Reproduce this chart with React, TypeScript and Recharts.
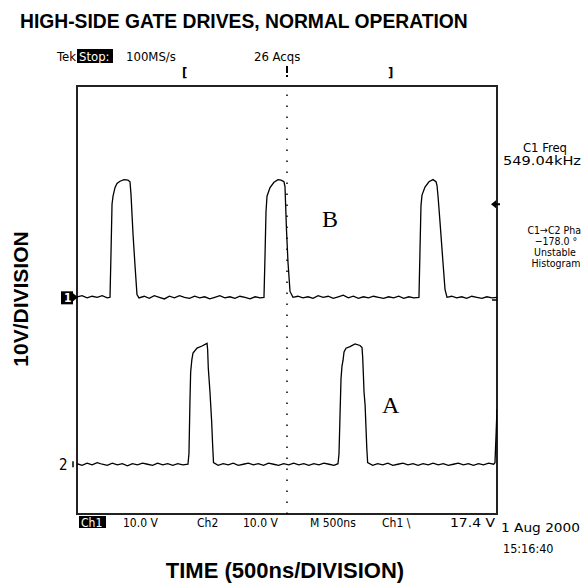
import React from "react";
import { LineChart, Line, XAxis, YAxis, ReferenceLine, ReferenceArea } from "recharts";

// ---- scope settings ----
const VOLTS_PER_DIV = 10;
const CH1_POS_DIV = 0.05;
const CH2_POS_DIV = -3.07;
const TIME_SPAN_NS = 5000;

// ---- Channel 1 (B) ----
const CH1_TIME_NS = [
  0, 60, 120, 180, 240, 300, 360, 393, 405, 417, 429, 452, 476, 512, 560, 607, 631, 643, 667, 690, 714, 738,
  800, 860, 920, 980, 1040, 1100, 1160, 1220, 1280, 1340, 1400, 1460, 1520, 1580, 1640, 1700, 1760, 1820,
  1880, 1940, 2000, 2060, 2120, 2180, 2226, 2238, 2250, 2262, 2298, 2345, 2393, 2429, 2464, 2476, 2494,
  2512, 2536, 2571, 2630, 2690, 2750, 2810, 2870, 2930, 2990, 3050, 3110, 3170, 3230, 3290, 3350, 3410,
  3470, 3530, 3590, 3650, 3710, 3770, 3830, 3890, 3950, 4010, 4071, 4083, 4095, 4107, 4143, 4190, 4238,
  4274, 4286, 4298, 4321, 4357, 4381, 4405, 4460, 4520, 4580, 4640, 4700, 4760, 4820, 4880, 4940, 5000,
];
const CH1_VOLTS = [
  0.1, 0.3, -0.1, 0.2, 0.0, 0.3, -0.1, 0.0, 8.4, 17.4, 18.9, 20.5, 21.3, 21.7, 22.0, 21.9, 21.6, 19.2, 11.8, 6.1, 0.5, -0.1,
  0.2, -0.2, 0.3, 0.0, -0.3, 0.2, -0.1, 0.3, 0.0, -0.2, 0.2, -0.1, 0.1, -0.3, 0.0, 0.3, -0.1, 0.1,
  -0.2, 0.2, 0.0, -0.3, 0.1, -0.1, 0.0, 7.6, 16.0, 18.9, 20.5, 21.5, 22.0, 21.9, 21.6, 20.7, 12.6,
  6.5, 1.1, 0.0, 0.2, -0.1, 0.1, -0.2, 0.3, 0.0, 0.2, -0.2, 0.1, 0.4, -0.1, 0.2, -0.2, 0.1,
  -0.1, 0.2, 0.0, -0.2, 0.1, -0.1, 0.2, -0.2, 0.1, -0.1, 0.0, 8.6, 17.1, 19.1, 20.6, 21.6, 22.0,
  21.6, 20.9, 18.9, 14.2, 6.5, 1.5, 0.0, 0.2, -0.1, 0.1, -0.2, 0.2, 0.0, -0.2, 0.1, -0.1, 0.0,
];

// ---- Channel 2 (A) ----
const CH2_TIME_NS = [
  0, 60, 120, 180, 240, 300, 360, 420, 480, 540, 600, 660, 720, 780, 840, 900, 960, 1020, 1080, 1140, 1200,
  1260, 1321, 1333, 1345, 1353, 1367, 1381, 1429, 1488, 1548, 1555, 1563, 1583, 1603, 1615, 1625, 1680,
  1740, 1800, 1860, 1920, 1980, 2040, 2100, 2160, 2220, 2280, 2340, 2400, 2460, 2520, 2580, 2640, 2700,
  2760, 2820, 2880, 2940, 3000, 3060, 3107, 3119, 3131, 3143, 3155, 3167, 3179, 3202, 3250, 3310, 3369,
  3393, 3401, 3410, 3417, 3430, 3440, 3450, 3460, 3520, 3580, 3640, 3700, 3760, 3820, 3880, 3940, 4000,
  4060, 4120, 4180, 4240, 4300, 4360, 4420, 4480, 4540, 4600, 4660, 4720, 4780, 4840, 4900, 4960, 4976,
  4990, 5000,
];
const CH2_VOLTS = [
  0.1, -0.2, 0.2, -0.1, 0.3, 0.0, -0.2, 0.2, -0.1, 0.1, -0.3, 0.1, -0.1, 0.2, 0.0, -0.2, 0.2, -0.1, 0.1, -0.2, 0.1,
  -0.1, 0.0, 2.0, 12.0, 17.2, 19.5, 20.8, 21.7, 22.1, 22.6, 21.5, 18.0, 13.5, 8.0, 3.5, 0.3, -0.2,
  0.1, -0.1, 0.2, -0.2, 0.0, 0.2, -0.1, 0.1, -0.2, 0.2, 0.0, -0.2, 0.1, -0.1, 0.2, -0.1, 0.1,
  -0.2, 0.1, -0.1, 0.2, 0.0, -0.2, 0.1, 1.9, 9.0, 16.0, 18.4, 19.4, 21.0, 21.7, 22.0, 22.5, 22.2,
  21.8, 20.0, 16.5, 13.5, 11.0, 7.0, 3.0, 0.3, -0.2, 0.1, -0.1, 0.2, -0.2, 0.0, 0.2, -0.1, 0.1,
  -0.2, 0.1, -0.1, 0.2, -0.1, 0.1, -0.2, 0.0, 0.2, -0.1, 0.1, -0.2, 0.1, -0.1, 0.2, 0.0, 0.3,
  6.0, 10.3,
];

const TRIGGER_LEVEL_V = 17.4;

const ch1Data = CH1_TIME_NS.map((t, i) => ({ t, y: CH1_VOLTS[i] / VOLTS_PER_DIV + CH1_POS_DIV }));
const ch2Data = CH2_TIME_NS.map((t, i) => ({ t, y: CH2_VOLTS[i] / VOLTS_PER_DIV + CH2_POS_DIV }));

const W = 582;
const H = 586;
const PL = 77, PR = 497, PT = 86, PB = 514;
const yPix = (div: number) => PT + ((4 - div) / 8) * (PB - PT);

const scopeFont = "'DejaVu Sans Condensed', 'Liberation Sans Narrow', sans-serif";
const boldFont = "'Liberation Sans', Arial, sans-serif";

export default function App() {
  const trigY = yPix(TRIGGER_LEVEL_V / VOLTS_PER_DIV + CH1_POS_DIV);
  const g1 = yPix(CH1_POS_DIV);
  const g2 = yPix(CH2_POS_DIV);
  return (
    <div style={{ position: "absolute", left: 0, top: 0, width: W, height: H, background: "#fff" }}>
      <LineChart
        width={W}
        height={H}
        margin={{ top: PT, right: W - PR, bottom: H - PB, left: PL }}
      >
        <XAxis type="number" dataKey="t" domain={[0, TIME_SPAN_NS]} hide allowDataOverflow />
        <YAxis type="number" domain={[-4, 4]} hide allowDataOverflow />
        <ReferenceArea x1={0} x2={TIME_SPAN_NS} y1={-4} y2={4} fill="none" stroke="#222" strokeWidth={2} ifOverflow="visible" />
        <ReferenceLine x={TIME_SPAN_NS / 2} stroke="#000" strokeWidth={1.5} strokeDasharray="1.5 9.5" />
        <Line data={ch1Data} dataKey="y" type="linear" stroke="#000" strokeWidth={1.3} dot={false} isAnimationActive={false} />
        <Line data={ch2Data} dataKey="y" type="linear" stroke="#000" strokeWidth={1.3} dot={false} isAnimationActive={false} />
      </LineChart>
      <svg width={W} height={H} style={{ position: "absolute", left: 0, top: 0, pointerEvents: "none" }}>
        <text x={20} y={28} fontFamily={boldFont} fontWeight="bold" fontSize={19.3} fill="#000">
          HIGH-SIDE GATE DRIVES, NORMAL OPERATION
        </text>
        <text x={285} y={578} textAnchor="middle" fontFamily={boldFont} fontWeight="bold" fontSize={22} fill="#000">
          TIME (500ns/DIVISION)
        </text>
        <text x={0} y={0} transform="translate(28,299) rotate(-90)" textAnchor="middle" fontFamily={boldFont} fontWeight="bold" fontSize={21} fill="#000">
          10V/DIVISION
        </text>

        {/* top status line */}
        <text x={57} y={61} fontFamily={scopeFont} fontSize={13} fill="#000">Tek</text>
        <rect x={77} y={49} width={36} height={14} fill="#000" />
        <text x={79} y={61} fontFamily={scopeFont} fontSize={13} fill="#fff">Stop:</text>
        <text x={126} y={61} fontFamily={scopeFont} fontSize={13} fill="#000">100MS/s</text>
        <text x={254} y={61} fontFamily={scopeFont} fontSize={13} fill="#000">26 Acqs</text>
        <text x={182} y={77} fontFamily={scopeFont} fontSize={13} fontWeight="bold" fill="#000">[</text>
        <line x1={287} y1={66} x2={287} y2={73} stroke="#000" strokeWidth={2} />
        <line x1={287} y1={75} x2={287} y2={77} stroke="#000" strokeWidth={2} />
        <text x={388} y={77} fontFamily={scopeFont} fontSize={13} fontWeight="bold" fill="#000">]</text>

        {/* right side readouts */}
        <text x={523} y={152} textLength={44} lengthAdjust="spacingAndGlyphs" fontFamily={scopeFont} fontSize={12} fill="#000">C1 Freq</text>
        <text x={503} y={165} textLength={78} lengthAdjust="spacingAndGlyphs" fontFamily={scopeFont} fontSize={11.5} fill="#000">549.04kHz</text>
        <text x={581} y={234} textAnchor="end" fontFamily={scopeFont} fontSize={10.5} fill="#000">C1→C2 Pha</text>
        <text x={556} y={245} textAnchor="middle" fontFamily={scopeFont} fontSize={10.5} fill="#000">−178.0 °</text>
        <text x={555} y={256} textAnchor="middle" fontFamily={scopeFont} fontSize={10.5} fill="#000">Unstable</text>
        <text x={556} y={267} textAnchor="middle" fontFamily={scopeFont} fontSize={10.5} fill="#000">Histogram</text>

        {/* trigger level arrow */}
        <path d={`M ${PR - 6} ${trigY} L ${PR - 1} ${trigY - 4} L ${PR - 1} ${trigY + 4} Z`} fill="#000" />
        <line x1={PR - 1} y1={trigY} x2={PR + 3} y2={trigY} stroke="#000" strokeWidth={2} />
        <line x1={PR - 5} y1={300} x2={PR} y2={300} stroke="#000" strokeWidth={1.5} />

        {/* channel ground markers */}
        <rect x={61} y={g1 - 6} width={12} height={13} fill="#000" />
        <text x={64} y={g1 + 5} fontFamily={scopeFont} fontSize={12} fontWeight="bold" fill="#fff">1</text>
        <path d={`M ${73} ${g1 - 4} L ${78} ${g1} L ${73} ${g1 + 4} Z`} fill="#000" />
        <text x={59} y={g2 + 6} fontFamily={scopeFont} fontSize={15} fill="#000">2</text>
        <line x1={73} y1={g2 - 3} x2={73} y2={g2 + 3} stroke="#000" strokeWidth={1.5} />

        {/* waveform labels */}
        <text x={322} y={227} fontFamily="'Liberation Serif', serif" fontSize={24} fill="#000">B</text>
        <text x={382} y={413} fontFamily="'Liberation Serif', serif" fontSize={24} fill="#000">A</text>

        {/* bottom status line */}
        <rect x={79} y={516} width={27} height={12} fill="#000" />
        <text x={81} y={527} fontFamily={scopeFont} fontSize={12} fill="#fff">Ch1</text>
        <text x={123} y={527} fontFamily={scopeFont} fontSize={12} fill="#000">10.0 V</text>
        <text x={197} y={527} fontFamily={scopeFont} fontSize={12} fill="#000">Ch2</text>
        <text x={243} y={527} fontFamily={scopeFont} fontSize={12} fill="#000">10.0 V</text>
        <text x={310} y={527} fontFamily={scopeFont} fontSize={12} fill="#000">M 500ns</text>
        <text x={382} y={527} fontFamily={scopeFont} fontSize={12} fill="#000">Ch1 \</text>
        <text x={450} y={527} textLength={45} lengthAdjust="spacingAndGlyphs" fontFamily={scopeFont} fontSize={12} fill="#000">17.4 V</text>
        <text x={501} y={532} textLength={79} lengthAdjust="spacingAndGlyphs" fontFamily={scopeFont} fontSize={12.5} fill="#000">1 Aug 2000</text>
        <text x={503} y={553} fontFamily={scopeFont} fontSize={12.5} fill="#000">15:16:40</text>
      </svg>
    </div>
  );
}
